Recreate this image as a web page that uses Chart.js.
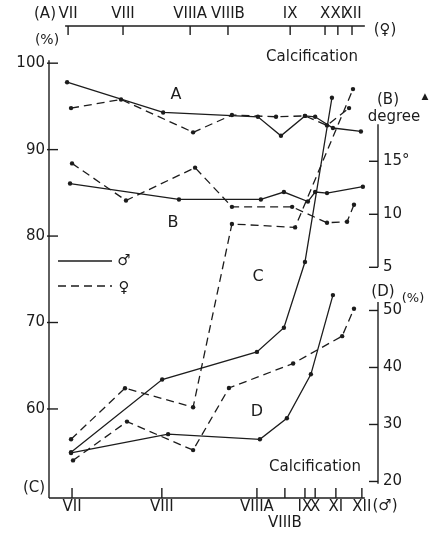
<!DOCTYPE html>
<html>
<head>
<meta charset="utf-8">
<script src="https://cdn.jsdelivr.net/npm/chart.js@4.4.1/dist/chart.umd.min.js"></script>
<style>
  html, body { margin: 0; background: #fff; }
  canvas { display: block; }
</style>
</head>
<body>
<canvas id="myChart" width="437" height="533"></canvas>
<script>
// stage positions on a 0-100 time axis; males along the bottom, females along the top
var maleStages = [7.0, 34.3, 63.2, 71.7, 77.8, 80.9, 87.2, 95.1];
var maleStageLabels = ['VII', 'VIII', 'VIIIA', ['', 'VIIIB'], 'IX', 'X', 'XI', 'XII'];
var femaleStages = [5.8, 22.5, 42.9, 54.4, 73.3, 83.9, 87.8, 92.1];
var femaleStageLabels = ['VII', 'VIII', 'VIIIA', 'VIIIB', 'IX', 'X', 'XI', 'XII'];

var pctTicks = [60, 70, 80, 90, 100];
var degreeTicks = [5, 10, 15];
var dTicks = [20, 30, 40, 50];

// (A) calcification %
var maleA_x = [5.5, 34.7, 63.5, 70.5, 77.8, 80.9, 86.3, 94.8];
var maleA = [97.8, 94.3, 93.8, 91.6, 93.9, 93.8, 92.5, 92.1];
var femaleA_x = [6.7, 21.9, 43.8, 55.6, 69.0, 77.8, 84.5, 91.2];
var femaleA = [94.8, 95.8, 92.0, 94.0, 93.8, 93.9, 92.8, 94.8];

// (B) degree
var maleB_x = [6.4, 39.5, 64.4, 71.4, 78.7, 80.9, 84.5, 95.4];
var maleB = [12.9, 11.4, 11.4, 12.1, 11.2, 12.1, 12.0, 12.6];
var femaleB_x = [7.0, 23.4, 44.4, 55.6, 73.9, 84.5, 90.6, 92.7];
var femaleB = [14.8, 11.3, 14.4, 10.7, 10.7, 9.2, 9.3, 10.9];

// (C) calcification %
var maleC_x = [6.7, 34.4, 63.2, 71.4, 77.8, 86.0];
var maleC = [55.0, 63.4, 66.6, 69.4, 77.0, 96.0];
var femaleC_x = [6.7, 23.1, 43.8, 55.6, 74.8, 92.4];
var femaleC = [56.5, 62.4, 60.2, 81.4, 81.0, 97.0];

// (D) %
var maleD_x = [6.7, 36.2, 64.1, 72.3, 79.6, 86.3];
var maleD = [25.0, 28.3, 27.4, 31.1, 38.8, 52.7];
var femaleD_x = [7.3, 23.7, 43.8, 54.7, 74.2, 89.1, 92.7];
var femaleD = [23.7, 30.5, 25.5, 36.4, 40.7, 45.5, 50.3];

var ink = '#1c1c1c';
var fontFamily = '"DejaVu Sans", sans-serif';

function pts(xs, ys) {
    return xs.map(function (x, i) { return { x: x, y: ys[i] }; });
}

function series(label, xs, ys, female, yAxis) {
    return {
        label: label,
        data: pts(xs, ys),
        xAxisID: female ? 'x2' : 'x',
        yAxisID: yAxis,
        borderColor: ink,
        backgroundColor: ink,
        borderWidth: 1.3,
        borderDash: female ? [8, 5] : [],
        pointRadius: 2.2,
        pointBorderWidth: 0,
        tension: 0,
        clip: false
    };
}

function fixedTicks(values) {
    return function (scale) {
        scale.ticks = values.map(function (v) { return { value: v }; });
    };
}

// free text on the plot
var notes = [
    ['(A)', 45, 14, 15],
    ['(%)', 47, 40, 14],
    ['(\u2640)', 385, 30, 15],
    ['Calcification', 312, 57, 15],
    ['A', 176, 95, 16],
    ['(B)', 388, 100, 15],
    ['\u25B2', 425, 97, 9],
    ['degree', 394, 117, 15],
    ['B', 173, 223, 16],
    ['C', 258, 277, 16],
    ['D', 257, 412, 16],
    ['(D)', 383, 292, 15],
    ['(%)', 413, 299, 13],
    ['Calcification', 315, 467, 15],
    ['(C)', 34, 488, 15],
    ['(\u2642)', 385, 506, 15],
    ['\u2642', 124, 261, 15],
    ['\u2640', 124, 288, 15]
];

var frame = {
    id: 'frame',
    afterDraw: function (chart) {
        var ctx = chart.ctx;
        var s = chart.scales;
        var area = chart.chartArea;
        ctx.save();
        ctx.strokeStyle = ink;
        ctx.lineWidth = 1.4;

        function seg(x1, y1, x2, y2) {
            ctx.beginPath();
            ctx.moveTo(x1, y1);
            ctx.lineTo(x2, y2);
            ctx.stroke();
        }

        // axis lines
        seg(area.left, s.y.getPixelForValue(100) - 3, area.left, area.bottom);
        seg(area.left, area.bottom, s.x.getPixelForValue(96), area.bottom);
        seg(s.x2.getPixelForValue(4.9), area.top, s.x2.getPixelForValue(96), area.top);
        seg(area.right, s.yB.getPixelForValue(18.5), area.right, s.yB.getPixelForValue(5));
        seg(area.right, s.yD.getPixelForValue(51.5), area.right, s.yD.getPixelForValue(19.6));

        // inward tick marks
        s.y.ticks.forEach(function (t) {
            var p = s.y.getPixelForValue(t.value);
            seg(area.left - 2, p, area.left + 9, p);
        });
        s.yB.ticks.forEach(function (t) {
            var p = s.yB.getPixelForValue(t.value);
            seg(area.right - 9, p, area.right, p);
        });
        s.yD.ticks.forEach(function (t) {
            var p = s.yD.getPixelForValue(t.value);
            seg(area.right - 9, p, area.right, p);
        });
        s.x.ticks.forEach(function (t) {
            var p = s.x.getPixelForValue(t.value);
            seg(p, area.bottom - 10, p, area.bottom);
        });
        s.x2.ticks.forEach(function (t) {
            var p = s.x2.getPixelForValue(t.value);
            seg(p, area.top, p, area.top + 9);
        });

        // legend
        ctx.lineWidth = 1.3;
        seg(58, 261, 112, 261);
        ctx.setLineDash([8, 5]);
        seg(58, 286, 112, 286);
        ctx.setLineDash([]);

        ctx.fillStyle = ink;
        ctx.textAlign = 'center';
        ctx.textBaseline = 'middle';
        notes.forEach(function (n) {
            ctx.font = n[3] + 'px ' + fontFamily;
            ctx.fillText(n[0], n[1], n[2]);
        });
        ctx.restore();
    }
};

var tickFont = { family: fontFamily, size: 15, lineHeight: 1.05 };

// the two right-hand axes share one column: degree on the upper part, (D) % below
function rightAxis(min, max, values, share, order, label) {
    return {
        type: 'linear',
        position: 'right',
        stack: 'right',
        stackWeight: share,
        weight: order,
        min: min,
        max: max,
        afterBuildTicks: fixedTicks(values),
        afterFit: function (scale) { scale.width = 59; },
        grid: { display: false, drawTicks: false },
        border: { display: false },
        ticks: { padding: 5, color: ink, font: tickFont, callback: label }
    };
}

var myChart = new Chart('myChart', {
    type: 'line',
    data: {
        datasets: [
            series('A male', maleA_x, maleA, false, 'y'),
            series('A female', femaleA_x, femaleA, true, 'y'),
            series('B male', maleB_x, maleB, false, 'yB'),
            series('B female', femaleB_x, femaleB, true, 'yB'),
            series('C male', maleC_x, maleC, false, 'y'),
            series('C female', femaleC_x, femaleC, true, 'y'),
            series('D male', maleD_x, maleD, false, 'yD'),
            series('D female', femaleD_x, femaleD, true, 'yD')
        ]
    },
    options: {
        responsive: false,
        animation: false,
        events: [],
        layout: { padding: 0 },
        plugins: {
            legend: { display: false },
            tooltip: { enabled: false }
        },
        scales: {
            x: {
                type: 'linear',
                position: 'bottom',
                min: 0,
                max: 100,
                afterBuildTicks: fixedTicks(maleStages),
                afterFit: function (scale) { scale.height = 35; },
                grid: { display: false, drawTicks: false },
                border: { display: false },
                ticks: {
                    autoSkip: false,
                    maxRotation: 0,
                    padding: 1,
                    color: ink,
                    font: tickFont,
                    callback: function (v, i) { return maleStageLabels[i]; }
                }
            },
            x2: {
                type: 'linear',
                position: 'top',
                min: 0,
                max: 100,
                afterBuildTicks: fixedTicks(femaleStages),
                afterFit: function (scale) { scale.height = 26; },
                grid: { display: false, drawTicks: false },
                border: { display: false },
                ticks: {
                    autoSkip: false,
                    maxRotation: 0,
                    padding: 4,
                    color: ink,
                    font: tickFont,
                    callback: function (v, i) { return femaleStageLabels[i]; }
                }
            },
            y: {
                type: 'linear',
                position: 'left',
                min: 49.7,
                max: 104.3,
                afterBuildTicks: fixedTicks(pctTicks),
                afterFit: function (scale) { scale.width = 49; },
                grid: { display: false, drawTicks: false },
                border: { display: false },
                ticks: { padding: 4, color: ink, font: tickFont }
            },
            yB: rightAxis(3.33, 27.76, degreeTicks, 259, 0, function (v) {
                return v === 15 ? '15\u00B0' : String(v);
            }),
            yD: rightAxis(17.1, 54.47, dTicks, 213, 1, function (v) { return String(v); })
        }
    },
    plugins: [frame]
});
</script>
</body>
</html>
